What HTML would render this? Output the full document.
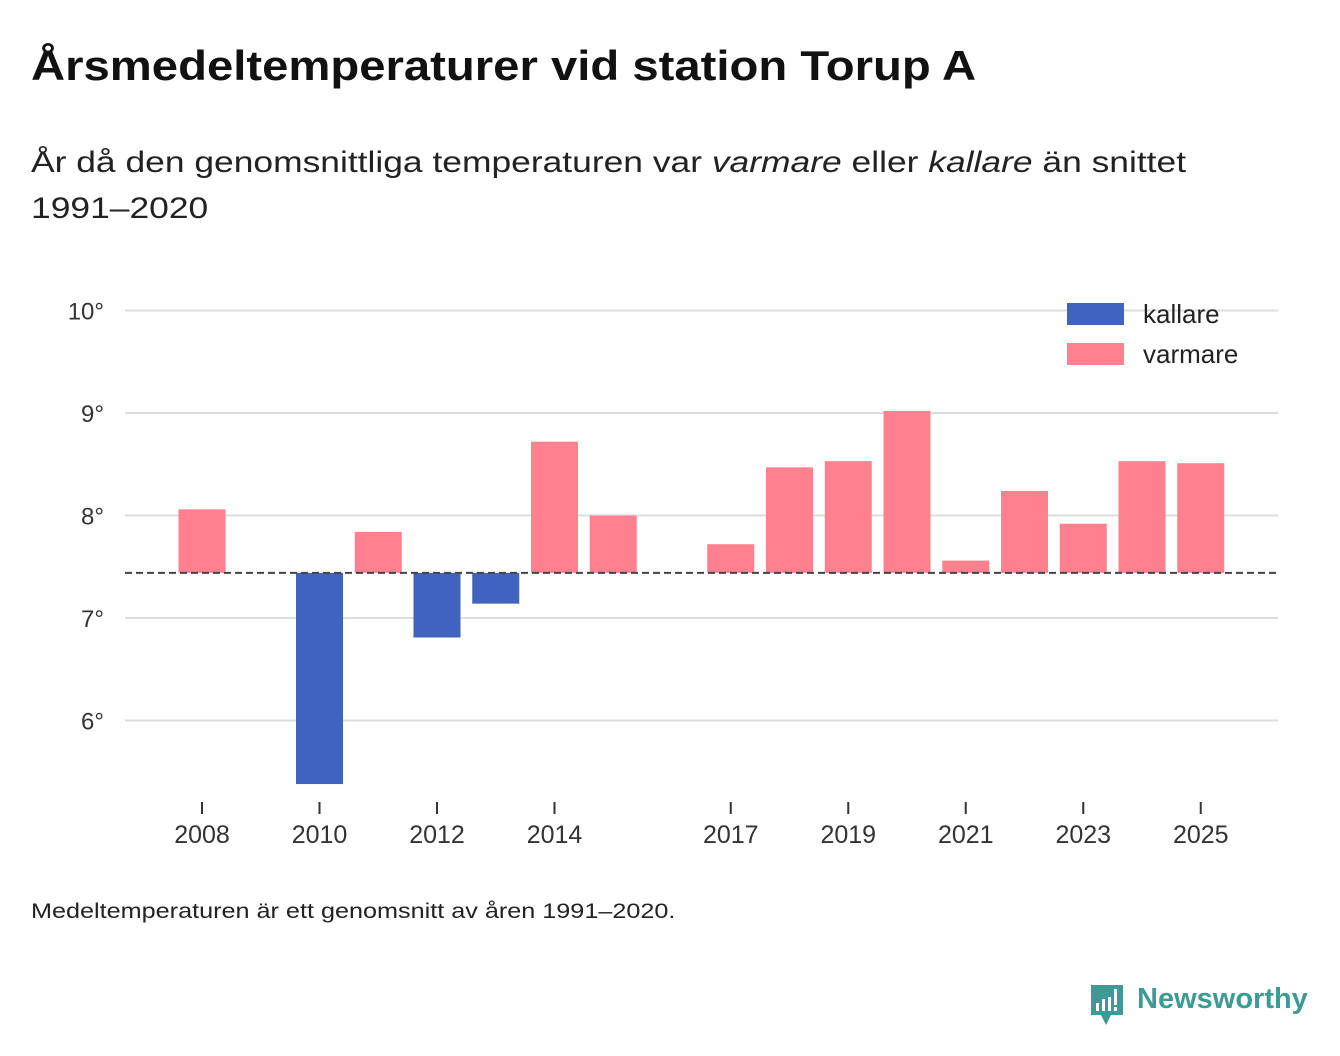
<!DOCTYPE html>
<html><head><meta charset="utf-8"><style>
body{margin:0;width:1340px;height:1056px;background:#fff;font-family:"Liberation Sans",sans-serif;color:#111;position:relative;overflow:hidden}
.t{position:absolute;left:31px;top:42px;font-size:42px;font-weight:bold;margin:0;transform:scaleX(1.125);transform-origin:left;white-space:nowrap}
.s{position:absolute;left:31px;top:140px;font-size:30px;line-height:46px;color:#222;transform:scaleX(1.18);transform-origin:left;white-space:nowrap}
.f{position:absolute;left:31px;top:900px;font-size:21px;color:#222;transform:scaleX(1.2);transform-origin:left;white-space:nowrap}
</style></head><body>
<h1 class="t">Årsmedeltemperaturer vid station Torup A</h1>
<div class="s">År då den genomsnittliga temperaturen var <i>varmare</i> eller <i>kallare</i> än snittet<br>1991–2020</div>
<svg id="c" width="1340" height="1056" style="position:absolute;left:0;top:0"></svg>
<div class="f">Medeltemperaturen är ett genomsnitt av åren 1991–2020.</div>
<div style="position:absolute;left:1089px;top:983px">
<svg width="36" height="44" style="position:absolute;left:0;top:0"><path d="M2 2h32v30h-12l-5 10-5-10H2z" fill="#3d9a94"/><rect x="7" y="20" width="3" height="8" fill="#fff"/><rect x="13" y="16" width="3" height="12" fill="#fff"/><rect x="19" y="14" width="3" height="14" fill="#fff"/><rect x="25" y="6" width="3" height="16" fill="#fff"/><rect x="25" y="24" width="3" height="4" fill="#fff"/></svg>
<span style="position:absolute;left:48px;top:0;font-size:29px;font-weight:bold;color:#3d9a94;white-space:nowrap">Newsworthy</span></div>
<script>
const years=[2008,2009,2010,2011,2012,2013,2014,2015,2016,2017,2018,2019,2020,2021,2022,2023,2024,2025];
const temps=[8.06,null,5.38,7.84,6.81,7.14,8.72,8.0,null,7.72,8.47,8.53,9.02,7.56,8.24,7.92,8.53,8.51];
const baseline=7.44;
const yTicks=[6,7,8,9,10];
const xTicks=[2008,2010,2012,2014,2017,2019,2021,2023,2025];
const NS="http://www.w3.org/2000/svg",svg=document.getElementById('c');
const y=v=>618-(v-7)*102.5, x=yr=>202+(yr-2008)*58.75;
function mk(t,a){const e=document.createElementNS(NS,t);for(const k in a)e.setAttribute(k,a[k]);svg.appendChild(e);return e;}
yTicks.forEach(v=>{const l=mk('line',{x1:125,x2:1278,y1:y(v),y2:y(v),stroke:'#ddd','stroke-width':2});


const t=mk('text',{x:104,y:y(v)+9,'text-anchor':'end','font-size':24,fill:'#333'});t.textContent=v+'°';

});
xTicks.forEach(yr=>{const l=mk('line',{x1:x(yr),x2:x(yr),y1:802,y2:814,stroke:'#333','stroke-width':2});


const t=mk('text',{x:x(yr),y:843,'text-anchor':'middle','font-size':25,fill:'#333'});t.textContent=yr;

});
years.forEach((yr,i)=>{const v=temps[i];if(v==null)return;const a=y(v),b=y(baseline);
const r=mk('rect',{x:x(yr)-23.5,width:47,y:Math.min(a,b),height:Math.abs(a-b),fill:v<baseline?'#4063bf':'#ff808f'});

});
const bl=mk('line',{x1:125,x2:1278,y1:y(baseline),y2:y(baseline),stroke:'#444','stroke-width':2,'stroke-dasharray':'7,4'});


[['kallare','#4063bf',303],['varmare','#ff808f',343]].forEach(([n,c,yy])=>{
const r=mk('rect',{x:1067,y:yy,width:57,height:22,fill:c});


const t=mk('text',{x:1143,y:yy+20,'font-size':26,fill:'#222'});t.textContent=n;

});
</script>
</body></html>
